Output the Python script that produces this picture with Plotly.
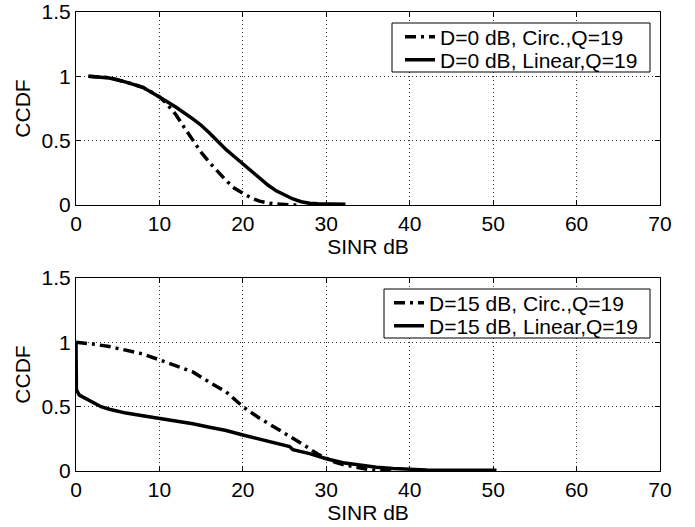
import plotly.graph_objects as go

# ---- data ----
top_circ_x = [1.5, 4, 6, 8, 9, 10, 10.7, 12, 13, 14, 15, 16, 17, 18, 19, 20, 21, 22, 23, 24, 25, 26, 27]
top_circ_y = [1.0, 0.99, 0.955, 0.915, 0.88, 0.84, 0.80, 0.70, 0.60, 0.50, 0.41, 0.33, 0.26, 0.19, 0.13, 0.09, 0.055, 0.03, 0.015, 0.008, 0.003, 0.001, 0.0]

top_lin_x = [1.5, 4, 6, 8, 10, 12, 14, 15, 16, 17, 18, 19, 20, 21, 22, 23, 24, 25, 26, 27, 28, 29, 30, 32.3]
top_lin_y = [1.0, 0.987, 0.955, 0.915, 0.84, 0.76, 0.67, 0.62, 0.56, 0.49, 0.43, 0.375, 0.32, 0.27, 0.215, 0.155, 0.11, 0.075, 0.047, 0.025, 0.013, 0.01, 0.008, 0.006]

bot_circ_x = [0, 2, 4, 6, 8, 10, 12, 14, 16, 18, 20, 22, 24, 26, 27.6, 29, 31, 32, 33.6, 35.2, 36.5, 38]
bot_circ_y = [1.0, 0.987, 0.967, 0.94, 0.91, 0.864, 0.82, 0.77, 0.69, 0.615, 0.50, 0.41, 0.333, 0.256, 0.19, 0.13, 0.07, 0.05, 0.03, 0.01, 0.003, 0.0]

bot_lin_x = [0, 0.05, 0.4, 1, 2, 3, 4, 6, 8, 10, 12, 14, 16, 18, 20, 22, 24.4, 25.6, 26, 28, 30, 32, 34, 36, 38, 40, 42, 44.8, 50.4]
bot_lin_y = [1.0, 0.63, 0.59, 0.57, 0.54, 0.50, 0.48, 0.45, 0.43, 0.41, 0.385, 0.367, 0.34, 0.315, 0.28, 0.25, 0.215, 0.19, 0.165, 0.135, 0.095, 0.064, 0.047, 0.03, 0.02, 0.012, 0.008, 0.005, 0.005]

x_ticks = [0, 10, 20, 30, 40, 50, 60, 70]
y_ticks = [0, 0.5, 1, 1.5]
y_tick_text = ["0", "0.5", "1", "1.5"]

legend_top = ["D=0 dB, Circ.,Q=19", "D=0 dB, Linear,Q=19"]
legend_bot = ["D=15 dB, Circ.,Q=19", "D=15 dB, Linear,Q=19"]

FONT = "Liberation Sans, Arial, Helvetica, sans-serif"
FS = 21
W, H = 695, 527
DASHDOT = "11px,5px,3px,5px"

def px(xp):
    return xp / W

def py(yp):
    return (H - yp) / H

fig = go.Figure()
fig.add_trace(go.Scatter(x=top_circ_x, y=top_circ_y, mode="lines", name=legend_top[0],
                         line=dict(color="black", width=3.5, dash=DASHDOT), xaxis="x", yaxis="y", legend="legend"))
fig.add_trace(go.Scatter(x=top_lin_x, y=top_lin_y, mode="lines", name=legend_top[1],
                         line=dict(color="black", width=3.5), xaxis="x", yaxis="y", legend="legend2"))
fig.add_trace(go.Scatter(x=bot_circ_x, y=bot_circ_y, mode="lines", name=legend_bot[0],
                         line=dict(color="black", width=3.5, dash=DASHDOT), xaxis="x2", yaxis="y2", legend="legend3"))
fig.add_trace(go.Scatter(x=bot_lin_x, y=bot_lin_y, mode="lines", name=legend_bot[1],
                         line=dict(color="black", width=3.5), xaxis="x2", yaxis="y2", legend="legend4"))

xdom = [px(76), px(660)]
ydom1 = [py(205), py(12)]
ydom2 = [py(471), py(278)]

def xax(anchor):
    return dict(domain=xdom, anchor=anchor, range=[0, 70], tickvals=x_ticks,
                showline=True, mirror="ticks", linecolor="black", linewidth=1,
                ticks="inside", ticklen=5, tickcolor="black",
                showgrid=True, gridcolor="#333333", griddash="1px,3px", gridwidth=1,
                zeroline=False, automargin=False,
                tickfont=dict(family=FONT, size=FS, color="black"),
                title=dict(text="SINR dB", font=dict(family=FONT, size=FS, color="black"), standoff=2))

def yax(anchor, dom):
    return dict(domain=dom, anchor=anchor, range=[0, 1.5], tickvals=y_ticks, ticktext=y_tick_text,
                showline=True, mirror="ticks", linecolor="black", linewidth=1,
                ticks="inside", ticklen=5, tickcolor="black",
                showgrid=True, gridcolor="#333333", griddash="1px,3px", gridwidth=1,
                zeroline=False, automargin=False,
                tickfont=dict(family=FONT, size=FS, color="black"),
                title=dict(text="CCDF", font=dict(family=FONT, size=FS, color="black"), standoff=5))

def leg(xl, yc):
    return dict(x=px(xl), y=py(yc), xanchor="left", yanchor="middle",
                bgcolor="rgba(0,0,0,0)", borderwidth=0,
                font=dict(family=FONT, size=FS, color="black"))

# legend frames (white boxes with black border)
boxes = [(392, 23, 650, 72), (384, 289, 650, 338)]
shapes = [dict(type="rect", xref="paper", yref="paper", x0=px(b[0]), x1=px(b[2]), y0=py(b[3]), y1=py(b[1]),
               line=dict(color="black", width=1), fillcolor="white", layer="above") for b in boxes]

fig.update_layout(
    width=W, height=H, autosize=False,
    margin=dict(l=0, r=0, t=0, b=0),
    paper_bgcolor="white", plot_bgcolor="white",
    xaxis=xax("y"), yaxis=yax("x", ydom1),
    xaxis2=xax("y2"), yaxis2=yax("x2", ydom2),
    legend=leg(400, 37), legend2=leg(400, 60),
    legend3=leg(389, 303), legend4=leg(389, 326),
    shapes=shapes,
    showlegend=True,
)

fig.write_html("out.html", config={"displayModeBar": False},
               post_script="document.body.style.margin='0px';document.body.style.overflow='hidden';")
